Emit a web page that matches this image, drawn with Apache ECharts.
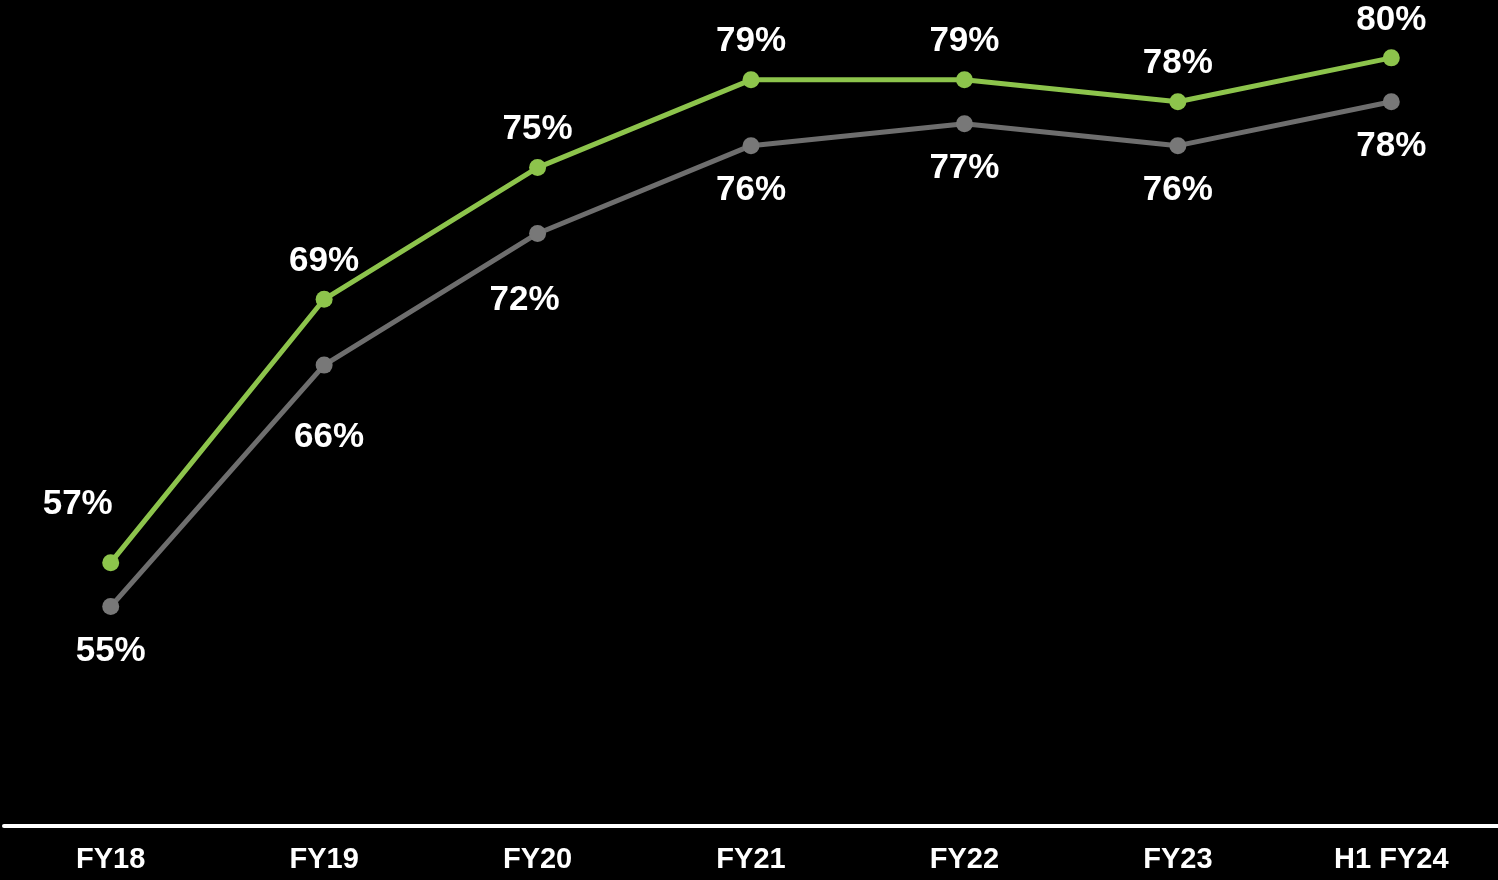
<!DOCTYPE html>
<html>
<head>
<meta charset="utf-8">
<title>FY18 – H1 FY24</title>
<script src="https://cdn.jsdelivr.net/npm/echarts@6/dist/echarts.min.js"></script>
<style>
  html, body { margin: 0; padding: 0; background: #000; }
  #chart { width: 1498px; height: 880px; }
</style>
</head>
<body>
<div id="chart"></div>
<script>
// Period labels along the x axis
const categories = ['FY18', 'FY19', 'FY20', 'FY21', 'FY22', 'FY23', 'H1 FY24'];

// Upper (green) series, percent
const greenValues = [57, 69, 75, 79, 79, 78, 80];

// Lower (grey) series, percent
const greyValues = [55, 66, 72, 76, 77, 76, 78];

// Per-point label nudges (pixels) where a label is moved off its default spot
const greenLabelOffsets = [[-33, -20], [0, 0], [0, 0], [0, 0], [0, 0], [0, 0], [0, 0]];
const greyLabelOffsets = [[0, 0], [5, 27], [-13, 22], [0, 0], [0, 0], [0, 0], [0, 0]];

const FONT = '"Liberation Sans", Arial, Helvetica, sans-serif';

function buildData(values, offsets) {
  return values.map((v, i) => ({
    value: v,
    label: { offset: offsets[i] }
  }));
}

const chart = echarts.init(document.getElementById('chart'), null, { renderer: 'canvas' });

chart.setOption({
  backgroundColor: '#000000',
  animation: false,
  grid: { left: 4, width: 1496, top: 3, bottom: 54, containLabel: false },
  xAxis: {
    type: 'category',
    data: categories,
    boundaryGap: true,
    axisLine: { show: true, lineStyle: { color: '#ffffff', width: 4 } },
    axisTick: { show: false },
    axisLabel: {
      color: '#ffffff',
      fontFamily: FONT,
      fontWeight: 'bold',
      fontSize: 29,
      margin: 19
    },
    splitLine: { show: false }
  },
  yAxis: {
    type: 'value',
    min: 45,
    max: 82.5,
    show: false,
    splitLine: { show: false }
  },
  series: [
    {
      name: 'grey',
      type: 'line',
      data: buildData(greyValues, greyLabelOffsets),
      symbol: 'circle',
      symbolSize: 17,
      lineStyle: { color: '#6e6e6e', width: 5 },
      itemStyle: { color: '#787878' },
      label: {
        show: true,
        position: 'bottom',
        distance: 19,
        color: '#ffffff',
        fontFamily: FONT,
        fontWeight: 'bold',
        fontSize: 35,
        formatter: p => p.value + '%'
      },
      z: 2
    },
    {
      name: 'green',
      type: 'line',
      data: buildData(greenValues, greenLabelOffsets),
      symbol: 'circle',
      symbolSize: 17,
      lineStyle: { color: '#8dc44c', width: 5 },
      itemStyle: { color: '#8dc44c' },
      label: {
        show: true,
        position: 'top',
        distance: 12,
        color: '#ffffff',
        fontFamily: FONT,
        fontWeight: 'bold',
        fontSize: 35,
        formatter: p => p.value + '%'
      },
      z: 3
    }
  ]
});
</script>
</body>
</html>
